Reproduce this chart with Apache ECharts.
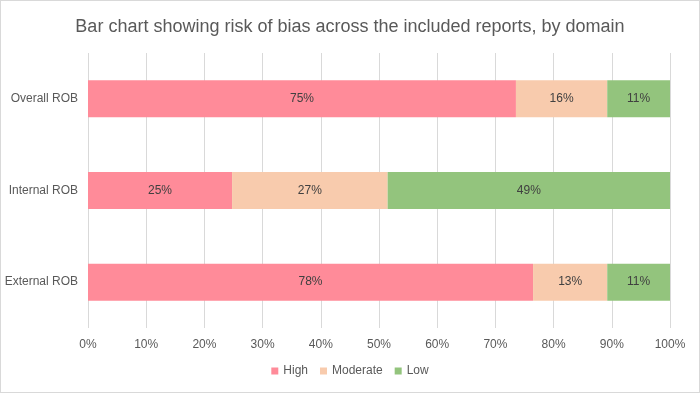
<!DOCTYPE html>
<html>
<head>
<meta charset="utf-8">
<script src="https://cdn.jsdelivr.net/npm/echarts@6/dist/echarts.min.js"></script>
<style>
  html, body { margin: 0; padding: 0; background: #fff; }
  #chart { width: 698px; height: 391px; border: 1px solid #d9d9d9; }
</style>
</head>
<body>
<div id="chart"></div>
<script>
const categories = ['Overall ROB', 'Internal ROB', 'External ROB'];
const seriesNames = ['High', 'Moderate', 'Low'];
// labelled percentages per category (rounded, so rows may not sum to 100)
const high = [75, 25, 78];
const moderate = [16, 27, 13];
const low = [11, 49, 11];
const colors = ['#FF8B99', '#F8CBAD', '#93C47D'];

const rows = [high, moderate, low];
const totals = categories.map((c, i) => high[i] + moderate[i] + low[i]);

const chart = echarts.init(document.getElementById('chart'));
const font = '"Liberation Sans", "Open Sans", sans-serif';

const option = {
  backgroundColor: '#ffffff',
  textStyle: { fontFamily: font },
  title: {
    text: 'Bar chart showing risk of bias across the included reports, by domain',
    left: 'center', top: 12,
    textStyle: { fontFamily: font, fontSize: 18, fontWeight: 'normal', color: '#595959' }
  },
  legend: {
    bottom: 10, left: 'center',
    itemWidth: 7, itemHeight: 7, itemGap: 12,
    icon: 'rect',
    textStyle: { fontFamily: font, fontSize: 12, color: '#595959' },
    data: seriesNames
  },
  grid: { left: 87, right: 29, top: 52, bottom: 64 },
  xAxis: {
    type: 'value', min: 0, max: 1, interval: 0.1,
    axisLine: { show: false }, axisTick: { show: false },
    splitLine: { lineStyle: { color: '#d9d9d9', width: 1 } },
    axisLabel: {
      margin: 11, fontSize: 12, color: '#595959', fontFamily: font,
      formatter: v => Math.round(v * 100) + '%'
    }
  },
  yAxis: {
    type: 'category', inverse: true, data: categories,
    axisLine: { show: false }, axisTick: { show: false },
    axisLabel: { margin: 10, fontSize: 12, color: '#595959', fontFamily: font }
  },
  series: seriesNames.map((name, s) => ({
    name: name, type: 'bar', stack: 'total', barWidth: 37,
    itemStyle: { color: colors[s] },
    label: {
      show: true, position: 'inside', fontSize: 12, color: '#404040', fontFamily: font,
      formatter: p => rows[s][p.dataIndex] + '%'
    },
    data: rows[s].map((v, i) => v / totals[i])
  })),
  color: colors
};

chart.setOption(option);
</script>
</body>
</html>
